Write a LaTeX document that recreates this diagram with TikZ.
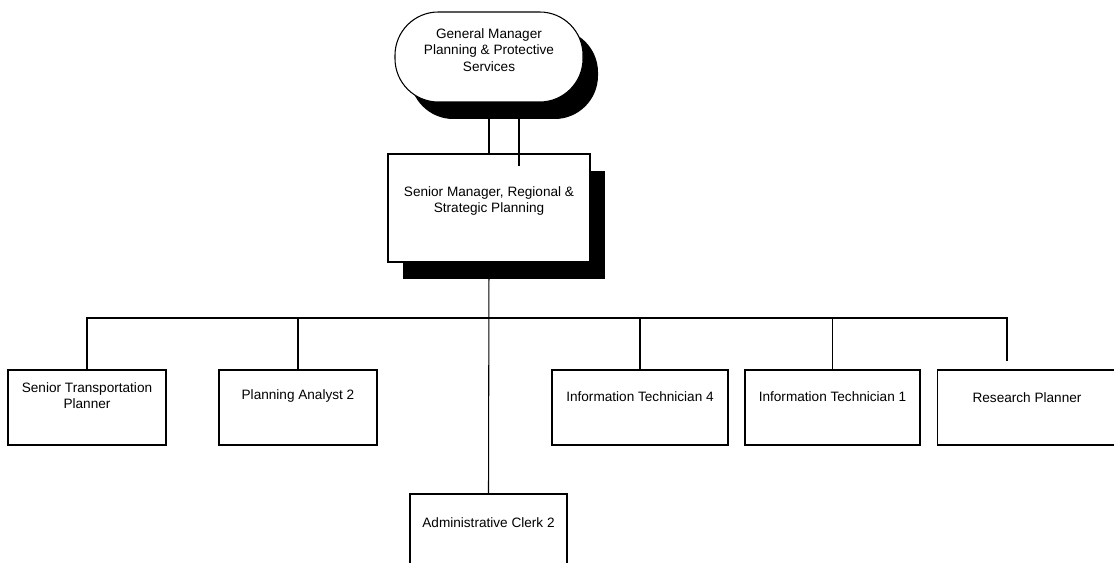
\documentclass[tikz,border=0pt]{standalone}
\usepackage{fontspec}
\setmainfont{Liberation Sans}
\usepackage{tikz}
\usetikzlibrary{shadows}

\tikzset{
  post/.style={draw, line width=0.8pt, fill=white, minimum width=#1, minimum height=56.25pt, inner sep=0pt},
  blk/.style={drop shadow={shadow xshift=11.25pt, shadow yshift=-12.75pt, fill=black, opacity=1}},
  lbl/.style={align=center, font=\fontsize{10.2}{12.4}\selectfont},
  wire/.style={line width=0.8pt}
}

\begin{document}
\begin{tikzpicture}[x=0.75pt,y=-0.75pt]
\useasboundingbox (0,0) rectangle (1114,563);

\node[post=141pt, minimum height=67.5pt, rounded corners=32.5pt, blk,
  label={[lbl,yshift=5.25pt]center:{General Manager\\Planning \& Protective\\Services}}] (gm) at (489,57) {};
\node[post=151.5pt, minimum height=81pt, blk,
  label={[lbl,yshift=5.25pt]center:{Senior Manager, Regional \&\\Strategic Planning}}] (sm) at (489,208) {};

\node[post=118.5pt, label={[lbl,yshift=9pt]center:{Senior Transportation\\Planner}}] (stp) at (87,407.5) {};
\node[post=118.5pt, label={[lbl,yshift=8.5pt]center:Planning Analyst 2}] (pa) at (298,407.5) {};
\node[post=117.75pt, label={[lbl,yshift=7pt]center:Administrative Clerk 2}] (ac) at (488.5,531.5) {};
\node[post=132pt, label={[lbl,yshift=8.5pt]center:Information Technician 4}] (itf) at (640,407.5) {};
\node[post=131.25pt, label={[lbl,yshift=8.5pt]center:Information Technician 1}] (ito) at (832.5,407.5) {};
\node[post=134pt, label={[lbl,yshift=7.5pt]center:Research Planner}] (rp) at (1027,407.5) {};

\coordinate (bus) at (489,318);

\draw[wire] (gm.south) -- (sm.north);
\draw[wire] ([xshift=22.5pt]gm.south) -- ([xshift=22.5pt,yshift=-9.75pt]sm.north);
\draw[wire] (sm.south) -- (ac.north);
\draw[wire] (stp.north) |- (bus);
\draw[wire] (pa.north) |- (bus);
\draw[wire] (itf.north) |- (bus);
\draw[wire] (ito.north) |- (bus);
\draw[wire] ([xshift=-15pt,yshift=6pt]rp.north) |- (bus);
\end{tikzpicture}
\end{document}
